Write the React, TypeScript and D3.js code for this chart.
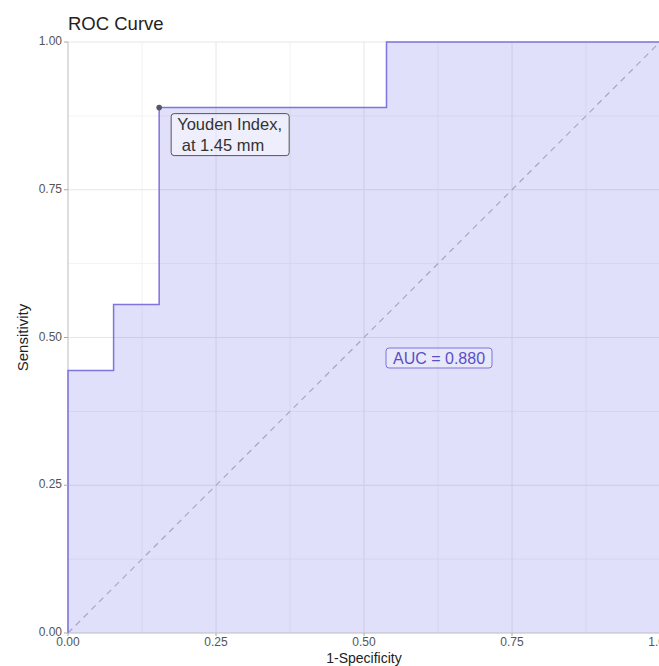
import React from 'react'
import * as d3 from 'd3'

// ROC step points (1-specificity, sensitivity)
const fpr = [0, 0, 0.077, 0.077, 0.154, 0.154, 0.538, 0.538, 1]
const tpr = [0, 0.444, 0.444, 0.556, 0.556, 0.889, 0.889, 1, 1]
const ticks = [0, 0.25, 0.5, 0.75, 1]
const minorTicks = [0.125, 0.375, 0.625, 0.875]
const youden = { x: 0.154, y: 0.889, lines: ['Youden Index,', ' at 1.45 mm'] }
const aucLabel = 'AUC = 0.880'

export default function App() {
  const W = 659, H = 666
  const margin = { top: 42, right: -1, bottom: 33, left: 68 }
  const x = d3.scaleLinear().domain([0, 1]).range([margin.left, W - margin.right])
  const y = d3.scaleLinear().domain([0, 1]).range([H - margin.bottom, margin.top])

  const pts = fpr.map((v, i) => [v, tpr[i]] as [number, number])
  const line = d3.line<[number, number]>().x(d => x(d[0])).y(d => y(d[1]))
  const area = d3.area<[number, number]>().x(d => x(d[0])).y0(y(0)).y1(d => y(d[1]))

  const font = 'Liberation Sans, Arial, sans-serif'
  const lineColor = '#7d74de'

  return (
    <svg width={W} height={H} style={{ position: 'absolute', left: 0, top: 0 }} fontFamily={font}>
      <rect width={W} height={H} fill="#fff" />
      {/* grid */}
      {minorTicks.map(t => (
        <g key={'m' + t}>
          <line x1={x(t)} x2={x(t)} y1={y(0)} y2={y(1)} stroke="#f2f2f2" strokeWidth={1} />
          <line x1={x(0)} x2={x(1)} y1={y(t)} y2={y(t)} stroke="#f2f2f2" strokeWidth={1} />
        </g>
      ))}
      {ticks.map(t => (
        <g key={'g' + t}>
          <line x1={x(t)} x2={x(t)} y1={y(0)} y2={y(1)} stroke="#e6e6e6" strokeWidth={1} />
          <line x1={x(0)} x2={x(1)} y1={y(t)} y2={y(t)} stroke="#e6e6e6" strokeWidth={1} />
        </g>
      ))}
      <path d={area(pts) || ''} fill="#6464e6" fillOpacity={0.2} />
      <line x1={x(0)} x2={x(1)} y1={y(0)} y2={y(1)} stroke="#a8a8b8" strokeWidth={1.2} strokeDasharray="6,5" />
      {/* axis lines */}
      <line x1={x(0)} x2={x(0)} y1={y(0)} y2={y(1)} stroke="#c8c8d0" strokeWidth={1} />
      <line x1={x(0)} x2={x(1)} y1={y(0)} y2={y(0)} stroke="#c8c8d0" strokeWidth={1} />
      <path d={line(pts) || ''} fill="none" stroke={lineColor} strokeWidth={1.5} />
      {/* ticks */}
      {ticks.map(t => (
        <g key={'t' + t} fill="#555" fontSize={12}>
          <line x1={x(0) - 4} x2={x(0)} y1={y(t)} y2={y(t)} stroke="#aaa" />
          <text x={x(0) - 6} y={y(t) + 3} textAnchor="end">{d3.format('.2f')(t)}</text>
          <line x1={x(t)} x2={x(t)} y1={y(0)} y2={y(0) + 3} stroke="#aaa" />
          <text x={x(t)} y={y(0) + 13} textAnchor="middle">{d3.format('.2f')(t)}</text>
        </g>
      ))}
      {/* titles */}
      <text x={x(0)} y={30} fontSize={18.5} fill="#222">ROC Curve</text>
      <text x={x(0.5)} y={663} fontSize={14} fill="#222" textAnchor="middle">1-Specificity</text>
      <text transform={`translate(28,${y(0.5)}) rotate(-90)`} fontSize={15} fill="#222" textAnchor="middle">Sensitivity</text>
      {/* youden point and label */}
      <circle cx={x(youden.x)} cy={y(youden.y)} r={2.8} fill="#555566" />
      <rect x={x(youden.x) + 12} y={y(youden.y) + 6} width={118} height={42} rx={3} fill="#fff" fillOpacity={0.45} stroke="#555" strokeWidth={1} />
      {youden.lines.map((l, i) => (
        <text key={i} x={x(youden.x) + 18} y={y(youden.y) + 22 + i * 21} fontSize={16.5} fill="#333" style={{ whiteSpace: 'pre' }}>{l}</text>
      ))}
      {/* AUC label */}
      <rect x={386} y={348} width={106} height={20} rx={3} fill="#fff" fillOpacity={0.25} stroke={lineColor} strokeWidth={1} />
      <text x={439} y={364} fontSize={16} fill="#5a4fc8" textAnchor="middle">{aucLabel}</text>
    </svg>
  )
}
